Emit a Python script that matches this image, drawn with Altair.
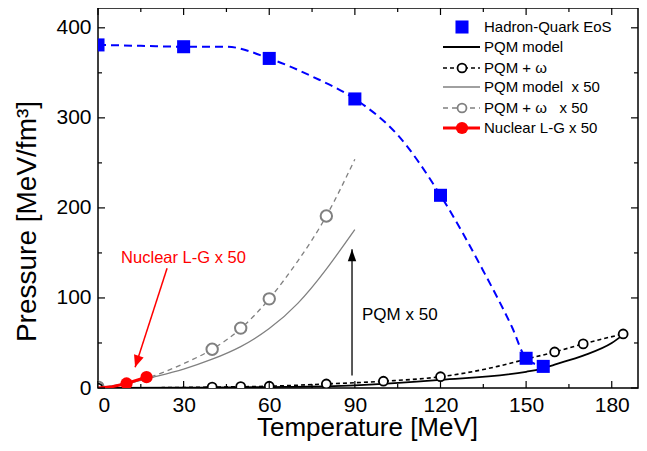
import altair as alt
import pandas as pd

FONT = "Liberation Sans"

# ---------------- data ----------------
# Hadron-Quark EoS (blue squares + dashed curve)
hq_T = [0, 30, 60, 90, 120, 150, 156]
hq_P = [381, 379, 366, 321, 214, 33, 24]
hq_curve_T = [0, 15, 30, 45, 60, 75, 90, 105, 120, 135, 145, 150, 156]
hq_curve_P = [381, 380, 379, 379, 366, 346, 321, 281, 214, 130, 68, 33, 24]

# PQM model (black solid)
pqm_T = [0, 30, 60, 90, 120, 150, 155, 160, 170, 180, 184]
pqm_P = [0, 0.3, 1, 3, 9, 18, 21, 26, 36, 50, 59]

# PQM + omega (black dashed with open circles)
pqmw_T = [0, 40, 50, 60, 80, 100, 120, 160, 170, 184]
pqmw_P = [0, 1, 1.5, 2, 4.5, 7.5, 12.5, 40, 49, 60]
pqmw_curve_T = [0, 20, 40, 60, 80, 100, 120, 140, 150, 160, 170, 184]
pqmw_curve_P = [0, 0.3, 1, 2, 4.5, 7.5, 12.5, 24, 32, 40, 49, 60]

# PQM model x 50 (grey solid)
pqm50_T = [0, 10, 20, 30, 40, 50, 60, 70, 80, 90]
pqm50_P = [0, 5, 12.5, 21, 32, 46, 66, 94, 132, 176]

# PQM + omega x 50 (grey dashed with open circles)
pqmw50_T = [0, 40, 50, 60, 80]
pqmw50_P = [1, 43, 66.5, 99, 191]
pqmw50_curve_T = [0, 10, 20, 30, 40, 50, 60, 70, 80, 90]
pqmw50_curve_P = [0, 5, 14, 27, 43, 66, 99, 141, 191, 254]

# Nuclear L-G x 50 (red)
nlg_T = [0, 5, 10, 17]
nlg_P = [0, 1.5, 5, 12]
nlg_mark_T = [10, 17]
nlg_mark_P = [5, 12]

# axis ticks
x_major = [0, 30, 60, 90, 120, 150, 180]
x_minor = [15, 45, 75, 105, 135, 165]
y_major = [0, 100, 200, 300, 400]
y_minor = [50, 150, 250, 350]

# annotations
pqm_arrow_T = [89, 89]
pqm_arrow_P = [14, 154]
red_arrow_T = [24.2, 13.0]
red_arrow_P = [133, 23]

W, H = 540, 380

xs = alt.Scale(domain=[0, 189.2], nice=False, zero=False)
ys = alt.Scale(domain=[0, 422], nice=False, zero=False)

xaxis = alt.Axis(values=x_major, title="Temperature [MeV]", ticks=False, tickSize=0,
                 domain=False, grid=False, labelFontSize=21, labelPadding=6,
                 labelFont=FONT, labelColor="black", titleFont=FONT, titleColor="black",
                 titleFontSize=26, titleFontWeight="normal", titleX=269, titleY=47,
                 titleAlign="center", titleBaseline="alphabetic", format="d")
yaxis = alt.Axis(values=y_major, title="Pressure [MeV/fm³]", ticks=False, tickSize=0,
                 domain=False, grid=False, labelFontSize=21, labelPadding=7,
                 labelFont=FONT, labelColor="black", titleFont=FONT, titleColor="black",
                 titleFontSize=28, titleFontWeight="normal", titleX=-63, titleY=213,
                 titleAlign="center", titleBaseline="alphabetic", titleAngle=270, format="d")


def X():
    return alt.X("T:Q", scale=xs, axis=xaxis)


def Y():
    return alt.Y("P:Q", scale=ys, axis=yaxis)


def df(T, P):
    return pd.DataFrame({"T": T, "P": P})


def line(T, P, interp="monotone", **kw):
    return alt.Chart(df(T, P)).mark_line(clip=True, interpolate=interp, **kw).encode(x=X(), y=Y())


def pts(T, P, **kw):
    return alt.Chart(df(T, P)).mark_point(clip=True, opacity=1, **kw).encode(x=X(), y=Y())


GREY = "#808080"
BLUE = "#0000ff"
RED = "#ff0000"

layers = []
# grey x50 curves
layers.append(line(pqm50_T, pqm50_P, interp="natural", color=GREY, strokeWidth=1.3))
layers.append(line(pqmw50_curve_T, pqmw50_curve_P, interp="natural", color=GREY, strokeWidth=1.3,
                   strokeDash=[5, 4]))
layers.append(pts(pqmw50_T, pqmw50_P, shape="circle", size=130, fill="white", fillOpacity=1,
                  stroke=GREY, strokeWidth=2))
# black curves
layers.append(line(pqm_T, pqm_P, color="black", strokeWidth=1.8))
layers.append(line(pqmw_curve_T, pqmw_curve_P, color="black", strokeWidth=1.6, strokeDash=[4, 3]))
layers.append(pts(pqmw_T, pqmw_P, shape="circle", size=80, fill="white", fillOpacity=1,
                  stroke="black", strokeWidth=1.8))
# blue
layers.append(line(hq_curve_T, hq_curve_P, color=BLUE, strokeWidth=2, strokeDash=[8, 5]))
layers.append(pts(hq_T, hq_P, shape="square", size=170, filled=True, color=BLUE))
# red
layers.append(line(nlg_T, nlg_P, interp="linear", color=RED, strokeWidth=3))
layers.append(pts(nlg_mark_T, nlg_mark_P, shape="circle", size=150, filled=True, color=RED))

# ticks (inward, mirrored)
def vticks(vals, y1, y2):
    return alt.Chart(pd.DataFrame({"T": vals})).mark_rule(color="black", strokeWidth=1.2).encode(
        x=X(), y=alt.value(y1), y2=alt.value(y2))


def hticks(vals, x1, x2):
    return alt.Chart(pd.DataFrame({"P": vals})).mark_rule(color="black", strokeWidth=1.2).encode(
        y=Y(), x=alt.value(x1), x2=alt.value(x2))


layers += [vticks(x_major, H, H - 7), vticks(x_minor, H, H - 4),
           vticks(x_major, 0, 7), vticks(x_minor, 0, 4),
           hticks(y_major, 0, 7), hticks(y_minor, 0, 4),
           hticks(y_major, W, W - 7), hticks(y_minor, W, W - 4)]

# annotation arrows
layers.append(alt.Chart(df(pqm_arrow_T, pqm_arrow_P)).mark_line(color="black", strokeWidth=1.3)
              .encode(x=X(), y=Y()))
layers.append(alt.Chart(df(pqm_arrow_T[1:], pqm_arrow_P[1:])).mark_point(
    shape="M0,0L0.35,1L-0.35,1Z", size=576, filled=True, color="black", opacity=1)
    .encode(x=X(), y=Y()))
layers.append(alt.Chart(df(red_arrow_T, red_arrow_P)).mark_line(color=RED, strokeWidth=1.5)
              .encode(x=X(), y=Y()))
layers.append(alt.Chart(df(red_arrow_T[1:], red_arrow_P[1:])).mark_point(
    shape="M0,0L0.42,1L-0.42,1Z", size=576, filled=True, color=RED, opacity=1, angle=198)
    .encode(x=X(), y=Y()))
layers.append(alt.Chart(df([92.5], [75.5])).mark_text(
    text="PQM x 50", align="left", baseline="alphabetic", fontSize=17, font=FONT, color="black")
    .encode(x=X(), y=Y()))
layers.append(alt.Chart(df([8.1], [139])).mark_text(
    text="Nuclear L-G x 50", align="left", baseline="alphabetic", fontSize=16.5, font=FONT, color=RED)
    .encode(x=X(), y=Y()))

# legend (drawn manually)
one = pd.DataFrame({"a": [0]})
LX1, LX2, LXC, LXT = 345, 382, 364, 386
rows = [19, 39, 60, 79, 100, 120]
labels = ["Hadron-Quark EoS", "PQM model", "PQM + ω", "PQM model\u00a0\u00a0x 50",
          "PQM + ω\u00a0\u00a0\u00a0x 50", "Nuclear L-G x 50"]


def lrule(yv, **kw):
    return alt.Chart(one).mark_rule(**kw).encode(x=alt.value(LX1), x2=alt.value(LX2), y=alt.value(yv))


def lpt(yv, **kw):
    return alt.Chart(one).mark_point(opacity=1, **kw).encode(x=alt.value(LXC), y=alt.value(yv))


layers.append(lpt(rows[0], shape="square", size=170, filled=True, color=BLUE))
layers.append(lrule(rows[1], color="black", strokeWidth=1.8))
layers.append(lrule(rows[2], color="black", strokeWidth=1.6, strokeDash=[4, 3]))
layers.append(lpt(rows[2], shape="circle", size=80, fill="white", fillOpacity=1, stroke="black", strokeWidth=1.8))
layers.append(lrule(rows[3], color=GREY, strokeWidth=1.3))
layers.append(lrule(rows[4], color=GREY, strokeWidth=1.3, strokeDash=[5, 4]))
layers.append(lpt(rows[4], shape="circle", size=80, fill="white", fillOpacity=1, stroke=GREY, strokeWidth=1.8))
layers.append(lrule(rows[5], color=RED, strokeWidth=3))
layers.append(lpt(rows[5], shape="circle", size=150, filled=True, color=RED))
for yv, lab in zip(rows, labels):
    layers.append(alt.Chart(one).mark_text(text=lab, align="left", baseline="middle", fontSize=15,
                                           font=FONT, color="black")
                  .encode(x=alt.value(LXT), y=alt.value(yv)))

chart = alt.layer(*layers).properties(
    width=W, height=H,
    autosize=alt.AutoSizeParams(type="none"),
    padding={"left": 90, "top": 0, "right": 1, "bottom": 53},
).configure_view(stroke="black", strokeWidth=1.5)

chart.save("out.html", embed_options={"renderer": "svg", "actions": False})
